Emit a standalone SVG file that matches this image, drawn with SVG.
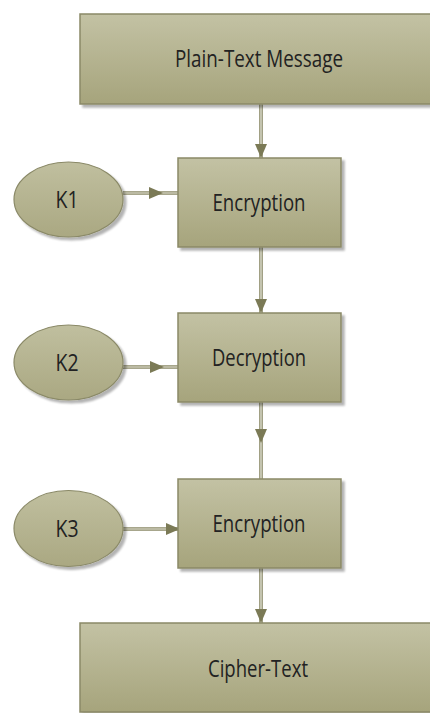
<svg xmlns="http://www.w3.org/2000/svg" width="430" height="713" viewBox="0 0 430 713">
  <defs>
    <linearGradient id="boxFill" x1="0" y1="0" x2="0" y2="1">
      <stop offset="0" stop-color="#c3c2a4"/>
      <stop offset="1" stop-color="#a6a47c"/>
    </linearGradient>
    <linearGradient id="ovalFill" x1="0" y1="0" x2="0" y2="1">
      <stop offset="0" stop-color="#c0bf9f"/>
      <stop offset="1" stop-color="#aaa882"/>
    </linearGradient>
    <filter id="shadow" x="-10%" y="-10%" width="130%" height="130%">
      <feGaussianBlur in="SourceAlpha" stdDeviation="1.2"/>
      <feOffset dx="3" dy="3" result="b"/>
      <feComponentTransfer><feFuncA type="linear" slope="0.3"/></feComponentTransfer>
      <feMerge><feMergeNode/><feMergeNode in="SourceGraphic"/></feMerge>
    </filter>
  </defs>
  <style>
    .box { fill: url(#boxFill); stroke: #8a8967; stroke-width: 1.5; filter: url(#shadow); }
    .oval { fill: url(#ovalFill); stroke: #8a8967; stroke-width: 1.2; filter: url(#shadow); }
    .lbl { font-family: "Open Sans", "Liberation Sans", sans-serif; font-size: 18px; fill: #222; text-anchor: middle; }
    .wire { fill: none; stroke: #8a8967; stroke-width: 3.6; }
    .core { fill: none; stroke: #ecebe0; stroke-width: 1.2; }
    .head { fill: #7b7a56; }
  </style>

  <!-- connectors: double-rule lines with solid heads -->
  <g id="connectors">
    <path class="wire" d="M261 104V158M261 247V313M261 402V479M261 568V623M123 193H178M123 367H178M123 529H178"/>
    <path class="core" d="M261 104V158M261 247V313M261 402V479M261 568V623M123 193H178M123 367H178M123 529H178"/>
    <path class="head" d="M255 144H267L261 158Z"/>
    <path class="head" d="M255 299H267L261 313Z"/>
    <path class="head" d="M255 429H267L261 443Z"/>
    <path class="head" d="M255 609H267L261 623Z"/>
    <path class="head" d="M149 187V199L163 193Z"/>
    <path class="head" d="M150 361V373L164 367Z"/>
    <path class="head" d="M166 523V535L180 529Z"/>
  </g>

  <g id="plain-text">
    <rect class="box" x="80" y="14" width="355" height="90"/>
    <text class="lbl" transform="translate(259 66.5) scale(1 1.3)" textLength="168" lengthAdjust="spacingAndGlyphs">Plain-Text Message</text>
  </g>

  <g id="encrypt-1">
    <rect class="box" x="178" y="158" width="163" height="89"/>
    <text class="lbl" transform="translate(259 210.5) scale(1 1.3)" textLength="93" lengthAdjust="spacingAndGlyphs">Encryption</text>
  </g>
  <g id="k1">
    <ellipse class="oval" cx="68.5" cy="199.5" rx="54.5" ry="37.5"/>
    <text class="lbl" transform="translate(67 207.5) scale(1 1.3)" textLength="23" lengthAdjust="spacingAndGlyphs">K1</text>
  </g>

  <g id="decrypt">
    <rect class="box" x="178" y="313" width="163" height="89"/>
    <text class="lbl" transform="translate(259 365.5) scale(1 1.3)" textLength="94" lengthAdjust="spacingAndGlyphs">Decryption</text>
  </g>
  <g id="k2">
    <ellipse class="oval" cx="68.5" cy="362.5" rx="54.5" ry="37.5"/>
    <text class="lbl" transform="translate(67 370.5) scale(1 1.3)" textLength="23" lengthAdjust="spacingAndGlyphs">K2</text>
  </g>

  <g id="encrypt-2">
    <rect class="box" x="178" y="479" width="163" height="89"/>
    <text class="lbl" transform="translate(259 531.5) scale(1 1.3)" textLength="93" lengthAdjust="spacingAndGlyphs">Encryption</text>
  </g>
  <g id="k3">
    <ellipse class="oval" cx="68.5" cy="528.5" rx="54.5" ry="38"/>
    <text class="lbl" transform="translate(67 536.5) scale(1 1.3)" textLength="23" lengthAdjust="spacingAndGlyphs">K3</text>
  </g>

  <g id="cipher-text">
    <rect class="box" x="80" y="623" width="355" height="89"/>
    <text class="lbl" transform="translate(258 676.5) scale(1 1.3)" textLength="100" lengthAdjust="spacingAndGlyphs">Cipher-Text</text>
  </g>
</svg>
